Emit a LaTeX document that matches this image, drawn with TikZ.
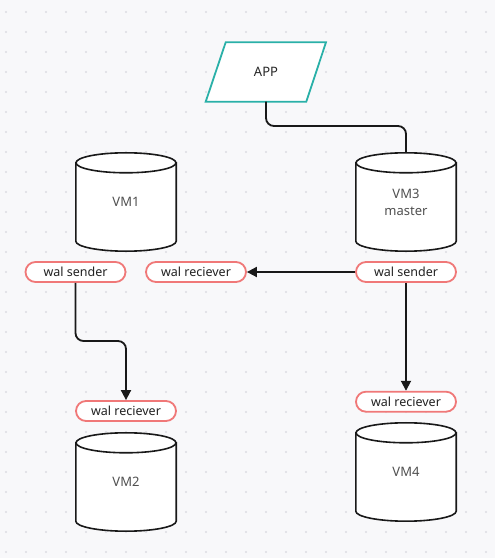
\documentclass[tikz,border=0pt]{standalone}
\usepackage{fontspec}
\setmainfont{Noto Sans}
\usetikzlibrary{arrows.meta,calc}
\definecolor{bg}{HTML}{F8F8FA}
\definecolor{dotc}{HTML}{DCDCE2}
\definecolor{teal}{HTML}{2AB0A8}
\definecolor{pill}{HTML}{F07878}
\definecolor{vmtext}{HTML}{505050}
\definecolor{lbltext}{HTML}{222222}
\tikzset{
  cyl/.style={minimum width=100pt,minimum height=98pt,inner sep=0pt,text=vmtext,font=\fontsize{13}{17}\selectfont,align=center},
  pilltag/.style={draw=pill,line width=1.8pt,fill=white,rounded corners=10pt,minimum width=100pt,minimum height=20pt,inner sep=0pt,text=lbltext,font=\fontsize{12.5}{15}\selectfont},
  conn/.style={line width=1.8pt,draw=black!90,rounded corners=8pt},
  arr/.style={-{Triangle[length=10pt,width=10pt]}},
  cylline/.style={line width=1.6pt,draw=black!90,fill=white}
}
\newcommand{\drawcyl}[1]{%
  \path[cylline] ($(#1.north west)+(0,-10)$) -- ($(#1.south west)+(0,10)$)
    .. controls ($(#1.south west)+(0,4.5)$) and ($(#1.south)+(-27.6,0)$) .. (#1.south)
    .. controls ($(#1.south)+(27.6,0)$) and ($(#1.south east)+(0,4.5)$) .. ($(#1.south east)+(0,10)$)
    -- ($(#1.north east)+(0,-10)$) -- cycle;
  \draw[cylline] ($(#1.north)+(0,-10)$) ellipse [x radius=50pt,y radius=10pt];
}
\begin{document}
\begin{tikzpicture}[x=1pt,y=1pt]
\fill[bg] (0,0) rectangle (495,558);
\useasboundingbox (0,0) rectangle (495,558);
\foreach \i in {0,...,24} {\foreach \j in {0,...,27} {\fill[dotc] (6+20*\i,546-20*\j) circle (1.2);}}
% APP
\node[minimum width=100pt,minimum height=59pt,inner sep=0pt] (app) at (266,486) {};
\draw[teal,line width=1.8pt,fill=white] (225.7,515.7) -- (326,515.7) -- (306.3,456.3) -- (205.7,456.3) -- cycle;
\node[text=black!85,font=\fontsize{13}{15}\selectfont] (apptxt) at (app.center) {APP};
% cylinders
\node[cyl] (vm1) at (126,356) {};
\node[cyl] (vm2) at (126,76) {};
\node[cyl] (vm3) at (406,356) {};
\node[cyl] (vm4) at (406,86) {};
\drawcyl{vm1}\drawcyl{vm2}\drawcyl{vm3}\drawcyl{vm4}
\node[cyl,minimum height=0pt] (vm1t) at ($(vm1.center)+(0,-0)$) {VM1};
\node[cyl,minimum height=0pt] (vm2t) at (vm2.center) {VM2};
\node[cyl,minimum height=0pt] (vm3t) at ($(vm3.center)+(0,0)$) {VM3\\master};
\node[cyl,minimum height=0pt] (vm4t) at (vm4.center) {VM4};
% labels
\node[pilltag] (ws1) at (75.5,286) {wal sender};
\node[pilltag] (wrm) at (196,286) {wal reciever};
\node[pilltag] (ws3) at (406,286) {wal sender};
\node[pilltag] (wr2) at (126,147) {wal reciever};
\node[pilltag] (wr4) at (406,156.3) {wal reciever};
% connectors
\coordinate (k1) at (266,432);
\coordinate (k2) at (75.5,217);
\draw[conn] (app.south) -- (k1) -- (vm3.north |- k1) -- (vm3.north);
\draw[conn,arr] (ws1.south) -- (k2) -- (wr2.north |- k2) -- (wr2.north);
\draw[conn,arr] (ws3.west) -- (wrm.east);
\draw[conn,arr] (ws3.south) -- (wr4.north);
\end{tikzpicture}
\end{document}
